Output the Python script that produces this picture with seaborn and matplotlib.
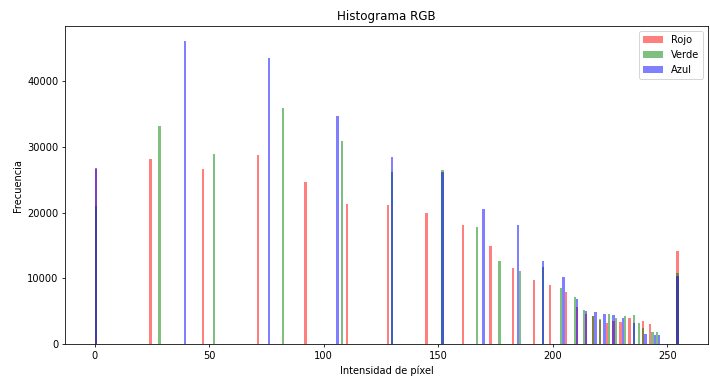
import matplotlib
matplotlib.use("Agg")
import matplotlib.pyplot as plt
import seaborn as sns

# intensidades presentes en cada canal y su frecuencia
rojo_x = [0, 24, 47, 71, 92, 110, 128, 145, 161, 173, 183, 192, 199, 206, 211,
          215, 218, 221, 224, 227, 230, 234, 240, 243, 255]
rojo_n = [26600, 28100, 26600, 28700, 24600, 21300, 21200, 19950, 18100, 14850,
          11550, 9750, 9050, 7900, 5600, 4600, 4250, 3700, 3200, 3600, 3350,
          3950, 3600, 3100, 14100]

verde_x = [0, 28, 52, 82, 108, 130, 152, 167, 177, 186, 196, 204, 210, 214,
           218, 221, 225, 228, 232, 236, 238, 240, 244, 246, 255]
verde_n = [21000, 33100, 28900, 35900, 30850, 26200, 26400, 17800, 12600, 11100,
           11800, 8600, 7150, 5200, 4300, 3870, 4600, 3950, 4300, 4400, 3300,
           2450, 1950, 1950, 10800]

azul_x = [0, 39, 76, 106, 130, 152, 170, 185, 196, 205, 211, 215, 219, 223,
          227, 231, 236, 241, 245, 247, 255]
azul_n = [26700, 46000, 43400, 34700, 28400, 26100, 20500, 18100, 12650, 10200,
          6950, 5100, 4850, 4600, 4400, 3950, 3250, 1600, 1400, 1400, 10400]

fig, ax = plt.subplots(figsize=(10, 381 / 71), dpi=71)

canales = [(rojo_x, rojo_n, "red", "Rojo"),
           (verde_x, verde_n, "green", "Verde"),
           (azul_x, azul_n, "blue", "Azul")]
for xs, ns, color, nombre in canales:
    sns.histplot(x=xs, weights=ns, bins=256, binrange=(0, 255), color=color,
                 alpha=0.5, linewidth=0, label=nombre, ax=ax)

ax.set_title("Histograma RGB")
ax.set_xlabel("Intensidad de píxel")
ax.set_ylabel("Frecuencia")
ax.legend(loc="upper right")

plt.subplots_adjust(left=0.092, right=0.997, top=0.932, bottom=0.096)
plt.savefig("out.png")
